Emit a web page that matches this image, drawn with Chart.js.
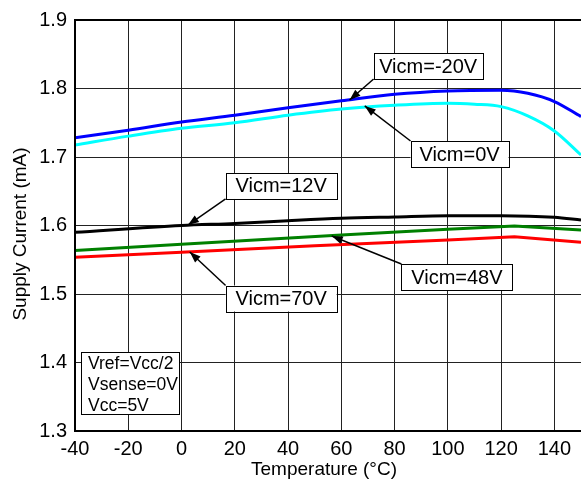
<!DOCTYPE html>
<html><head><meta charset="utf-8">
<script src="https://cdn.jsdelivr.net/npm/chart.js@4"></script>
<style>html,body{margin:0;padding:0;background:#fff}</style>
</head><body>
<canvas id="c" width="581" height="486"></canvas>
<script>
/* ---------- Data: temperature (°C) vs supply current (mA) ---------- */
const tempsM20 = [-40, -20, 0, 20, 40, 60, 80, 100, 120, 130, 140, 150];
const currM20  = [1.728, 1.739, 1.751, 1.761, 1.772, 1.782, 1.7915, 1.7964, 1.7974, 1.793, 1.781, 1.759];
const temps0   = [-40, -20, 0, 20, 40, 60, 80, 100, 110, 120, 130, 140, 150];
const curr0    = [1.7175, 1.7305, 1.742, 1.750, 1.761, 1.770, 1.7755, 1.7784, 1.777, 1.7735, 1.760, 1.738, 1.703];
const temps12  = [-40, 0, 20, 40, 60, 80, 100, 120, 140, 150];
const curr12   = [1.590, 1.600, 1.603, 1.607, 1.6105, 1.6125, 1.6143, 1.6143, 1.612, 1.608];
const temps48  = [-40, 0, 60, 100, 125, 150];
const curr48   = [1.5635, 1.5725, 1.586, 1.5944, 1.5993, 1.5934];
const temps70  = [-40, 0, 50, 100, 125, 150];
const curr70   = [1.5535, 1.561, 1.5703, 1.579, 1.5837, 1.5755];

const xMin = -40, xMax = 150;
const xTicks = [-40, -20, 0, 20, 40, 60, 80, 100, 120, 140];
const yMin = 1.3, yMax = 1.9, yStep = 0.1;

// callout labels: text centre and arrow tip in data units
const callouts = [
  { text: 'Vicm=-20V', at: [92.6, 1.8328],  tip: [63.1, 1.7832], corner: 'bl', w: 109 },
  { text: 'Vicm=0V',   at: [104.4, 1.7044], tip: [68.8, 1.7745], corner: 'tl', w: 98 },
  { text: 'Vicm=12V',  at: [37.4, 1.6577],  tip: [2.4, 1.6007],  corner: 'bl', w: 111 },
  { text: 'Vicm=48V',  at: [103.4, 1.5248], tip: [56.4, 1.5847], corner: 'tl', w: 111 },
  { text: 'Vicm=70V',  at: [37.4, 1.4934],  tip: [3.1, 1.5613],  corner: 'tl', w: 111 }
];
const conditions = ['Vref=Vcc/2', 'Vsense=0V', 'Vcc=5V'];

const FONT = '"Liberation Sans", Arial, sans-serif';
const pts = (xs, ys) => xs.map((x, i) => ({ x: x, y: ys[i] }));

function series(label, xs, ys, color, smooth){
  return {
    label: label, data: pts(xs, ys), borderColor: color, backgroundColor: color,
    borderWidth: 3, pointRadius: 0, fill: false,
    cubicInterpolationMode: smooth ? 'monotone' : 'default', tension: 0
  };
}

/* ---------- Overlay: frame, axis titles, callouts ---------- */
const overlay = {
  id: 'overlay',
  afterDatasetsDraw(chart){
    const ctx = chart.ctx, a = chart.chartArea;
    const sx = chart.scales.x, sy = chart.scales.y;
    ctx.save();

    // heavier frame on left / top / bottom
    ctx.strokeStyle = '#000'; ctx.lineWidth = 2;
    ctx.beginPath();
    ctx.moveTo(a.right, a.top); ctx.lineTo(a.left, a.top);
    ctx.lineTo(a.left, a.bottom); ctx.lineTo(a.right, a.bottom);
    ctx.stroke();

    // callouts
    ctx.font = '20px ' + FONT;
    ctx.textAlign = 'center'; ctx.textBaseline = 'middle';
    callouts.forEach(c => {
      const cx = sx.getPixelForValue(c.at[0]), cy = sy.getPixelForValue(c.at[1]);
      const h = 26, bx = cx - c.w / 2, by = cy - h / 2;
      const tx = sx.getPixelForValue(c.tip[0]), ty = sy.getPixelForValue(c.tip[1]);
      const ox = bx, oy = c.corner === 'bl' ? by + h : by;

      // arrow
      ctx.strokeStyle = '#000'; ctx.lineWidth = 1.5;
      ctx.beginPath(); ctx.moveTo(ox, oy); ctx.lineTo(tx, ty); ctx.stroke();
      const ang = Math.atan2(ty - oy, tx - ox), L = 11, W = 4;
      ctx.fillStyle = '#000';
      ctx.beginPath();
      ctx.moveTo(tx, ty);
      ctx.lineTo(tx - L * Math.cos(ang) + W * Math.sin(ang), ty - L * Math.sin(ang) - W * Math.cos(ang));
      ctx.lineTo(tx - L * Math.cos(ang) - W * Math.sin(ang), ty - L * Math.sin(ang) + W * Math.cos(ang));
      ctx.closePath(); ctx.fill();

      // box
      ctx.fillStyle = '#fff';
      ctx.fillRect(bx, by, c.w, h);
      ctx.lineWidth = 1;
      ctx.strokeRect(Math.round(bx) + 0.5, Math.round(by) + 0.5, c.w, h);
      ctx.fillStyle = '#000';
      ctx.fillText(c.text, cx, cy + 1);
    });

    // test conditions box
    const px = a.left + 6, py = a.bottom - 79;
    ctx.fillStyle = '#fff'; ctx.fillRect(px, py, 98, 62);
    ctx.strokeStyle = '#000'; ctx.lineWidth = 1;
    ctx.strokeRect(px + 0.5, py + 0.5, 98, 62);
    ctx.fillStyle = '#000';
    ctx.font = '17.5px ' + FONT;
    ctx.textAlign = 'left';
    conditions.forEach((t, i) => ctx.fillText(t, px + 7, py + 12 + i * 21));

    // axis titles
    ctx.font = '19px ' + FONT;
    ctx.textAlign = 'center';
    ctx.fillText('Temperature (°C)', (a.left + a.right) / 2 - 4, 470);
    ctx.translate(21, 234);
    ctx.rotate(-Math.PI / 2);
    ctx.fillText('Supply Current (mA)', 0, 0);
    ctx.restore();
  }
};

window.onload = function(){
  new Chart(document.getElementById('c').getContext('2d'), {
    type: 'line',
    data: {
      datasets: [
        series('Vicm=-20V', tempsM20, currM20, '#0000ff', true),
        series('Vicm=0V',   temps0,   curr0,   '#00ffff', true),
        series('Vicm=12V',  temps12,  curr12,  '#000000', true),
        series('Vicm=48V',  temps48,  curr48,  '#008000', false),
        series('Vicm=70V',  temps70,  curr70,  '#ff0000', false)
      ]
    },
    options: {
      responsive: false, animation: false, devicePixelRatio: 1,
      layout: { padding: { top: 20, right: 0, left: 0, bottom: 0 } },
      plugins: { legend: { display: false }, tooltip: { enabled: false } },
      scales: {
        x: {
          type: 'linear', min: xMin, max: xMax,
          afterBuildTicks: s => { s.ticks = xTicks.map(v => ({ value: v })); },
          afterFit: s => { s.height = 55; },
          ticks: { color: '#000', padding: 6, maxRotation: 0, autoSkip: false,
                   font: { family: FONT, size: 20 } },
          grid: { color: '#222', lineWidth: 1, drawTicks: false },
          border: { display: false }
        },
        y: {
          min: yMin, max: yMax,
          afterFit: s => { s.width = 75; },
          ticks: { stepSize: yStep, color: '#000', padding: 8,
                   callback: v => v.toFixed(1),
                   font: { family: FONT, size: 20 } },
          grid: { color: '#222', lineWidth: 1, drawTicks: false },
          border: { display: false }
        }
      }
    },
    plugins: [overlay]
  });
};
</script>
</body></html>
